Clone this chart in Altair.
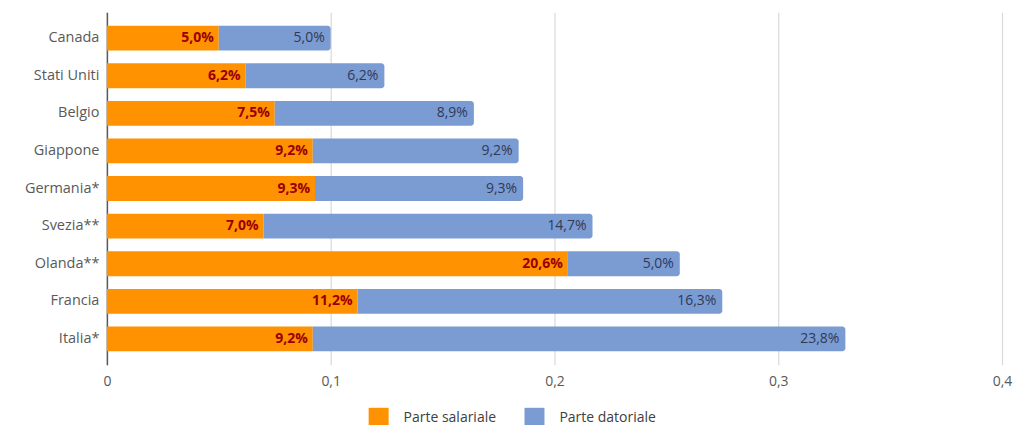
import altair as alt
import pandas as pd

paesi = ["Canada", "Stati Uniti", "Belgio", "Giappone", "Germania*", "Svezia**", "Olanda**", "Francia", "Italia*"]
salariale = [0.050, 0.062, 0.075, 0.092, 0.093, 0.070, 0.206, 0.112, 0.092]
datoriale = [0.050, 0.062, 0.089, 0.092, 0.093, 0.147, 0.050, 0.163, 0.238]
serie = ["Parte salariale", "Parte datoriale"]
colori = ["#FF9200", "#7B9BD3"]
ticks_x = [0, 0.1, 0.2, 0.3, 0.4]

df = pd.DataFrame({"paese": paesi, "sal": salariale, "dat": datoriale})

FONT = "Open Sans"

base = alt.Chart(df).transform_calculate(
    tot="datum.sal + datum.dat",
    s1="'Parte salariale'",
    s2="'Parte datoriale'",
    lab_sal="replace(format(datum.sal * 100, '.1f'), '.', ',') + '%'",
    lab_dat="replace(format(datum.dat * 100, '.1f'), '.', ',') + '%'",
)

yenc = alt.Y(
    "paese:N",
    sort=paesi,
    title=None,
    scale=alt.Scale(paddingInner=0.34, paddingOuter=0.36),
    axis=alt.Axis(
        ticks=False,
        labelFontSize=14.5,
        labelColor="#595959",
        labelPadding=8,
        domainColor="#595959",
        domainWidth=1.5,
        labelFont=FONT,
    ),
)

xscale = alt.Scale(domain=[0, 0.4], nice=False)
xaxis = alt.Axis(
    values=ticks_x,
    labelExpr="datum.value == 0 ? '0' : replace(format(datum.value, '.1f'), '.', ',')",
    grid=True,
    gridColor="#D9D9D9",
    gridWidth=1.2,
    domain=False,
    ticks=False,
    labelFlush=False,
    labelFontSize=14,
    labelColor="#595959",
    labelPadding=10,
    labelFont=FONT,
    title=None,
)

color_scale = alt.Scale(domain=serie, range=colori)

bar_sal = base.mark_bar().encode(
    y=yenc,
    x=alt.X("sal:Q", scale=xscale, axis=xaxis),
    x2=alt.value(0),
    color=alt.Color(
        "s1:N",
        scale=color_scale,
        title=None,
        legend=alt.Legend(
            orient="none",
            legendX=262,
            legendY=396,
            direction="horizontal",
            symbolType="square",
            symbolSize=400,
            symbolStrokeWidth=0,
            labelFontSize=14,
            labelColor="#404040",
            labelFont=FONT,
            labelOffset=15,
            columnPadding=28,
        ),
    ),
)

bar_dat = base.mark_bar(cornerRadiusTopRight=3, cornerRadiusBottomRight=3).encode(
    y=yenc,
    x=alt.X("sal:Q", scale=xscale),
    x2="tot:Q",
    color=alt.Color("s2:N", scale=color_scale),
)

txt_sal = base.mark_text(
    align="right", dx=-5, fontSize=14, fontWeight="bold", color="#9A0000", font=FONT
).encode(y=yenc, x=alt.X("sal:Q", scale=xscale), text="lab_sal:N")

txt_dat = base.mark_text(
    align="right", dx=-6, fontSize=14, color="#2F3A55", font=FONT
).encode(y=yenc, x=alt.X("tot:Q", scale=xscale), text="lab_dat:N")

chart = (
    alt.layer(bar_sal, bar_dat, txt_sal, txt_dat)
    .properties(
        width=896,
        height=353,
        autosize=alt.AutoSizeParams(type="none"),
        padding={"left": 99, "top": 4, "right": 20, "bottom": 60},
    )
    .configure_view(stroke=None)
)

chart.save("out.html", embed_options={"renderer": "svg", "actions": False})
